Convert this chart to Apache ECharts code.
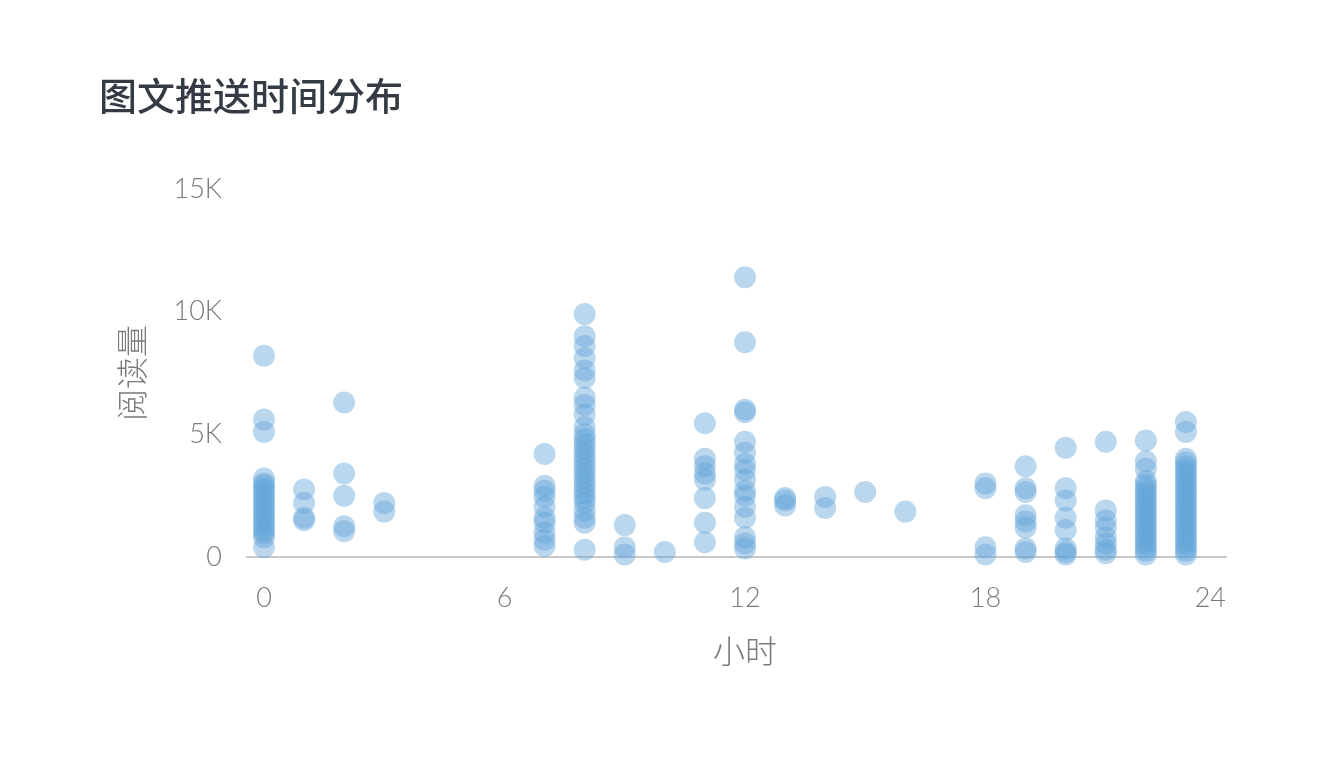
<!DOCTYPE html>
<html>
<head>
<meta charset="utf-8">
<script src="https://cdn.jsdelivr.net/npm/echarts@6/dist/echarts.min.js"></script>
<style>
html,body{margin:0;padding:0;background:#fff;}
#chart{width:1320px;height:760px;}
</style>
</head>
<body>
<div id="chart"></div>
<script>
const title = '图文推送时间分布';
const xName = '小时';
const yName = '阅读量';
const xTicks = [0, 6, 12, 18, 24];
const yTicks = [0, 5000, 10000, 15000];

const hours = [0, 1, 2, 3, 7, 8, 9, 10, 11, 12, 13, 14, 15, 16, 18, 19, 20, 21, 22, 23];
const readsByHour = [
  [8200, 5600, 5100, 3200, 3000, 2900, 2750, 2600, 2450, 2300, 2150, 2000, 1850, 1700, 1550, 1400, 1250, 1100, 950, 800, 400],
  [2750, 2200, 1600, 1500],
  [6300, 3400, 2500, 1250, 1050],
  [2200, 1850],
  [4200, 2900, 2700, 2450, 2050, 1600, 1400, 1000, 700, 450],
  [9900, 9000, 8600, 8100, 7600, 7300, 6500, 6200, 5800, 5300, 5000, 4800, 4600, 4400, 4200, 4000, 3800, 3600, 3400, 3200, 3000, 2800, 2600, 2400, 2200, 1900, 1600, 1400, 300],
  [1300, 400, 100],
  [200],
  [5450, 4000, 3700, 3400, 3150, 2400, 1400, 600],
  [11400, 8750, 6000, 5900, 4700, 4250, 3800, 3550, 3150, 2700, 2500, 2050, 1600, 800, 550, 350],
  [2400, 2300, 2100],
  [2450, 2000],
  [2650],
  [1850],
  [3000, 2800, 400, 100],
  [3700, 2800, 2650, 1700, 1450, 1200, 350, 200],
  [4450, 2800, 2300, 1600, 1100, 350, 200, 100],
  [4700, 1900, 1500, 1200, 800, 550, 300, 150],
  [4750, 3900, 3600, 3100, 2950, 2800, 2650, 2500, 2350, 2200, 2050, 1900, 1750, 1600, 1450, 1300, 1150, 1000, 850, 700, 550, 400, 250, 100],
  [5500, 5100, 4000, 3850, 3700, 3550, 3400, 3250, 3100, 2950, 2800, 2650, 2500, 2350, 2200, 2050, 1900, 1750, 1600, 1450, 1300, 1150, 1000, 850, 700, 550, 400, 250, 100]
];

const points = [];
hours.forEach(function (h, i) {
  readsByHour[i].forEach(function (v) { points.push([h, v]); });
});

const greyText = '#7a7a7a';
const labelFont = 'Lato, "Noto Sans CJK SC", sans-serif';

const chart = echarts.init(document.getElementById('chart'), null, {renderer: 'canvas'});
chart.setOption({
  backgroundColor: '#ffffff',
  animation: false,
  title: {
    text: title,
    left: 94,
    top: 72,
    textStyle: {
      fontFamily: '"Noto Sans CJK SC", sans-serif',
      fontSize: 38,
      fontWeight: 500,
      color: '#353b45'
    }
  },
  grid: [
    {left: 264, right: 94, top: 189, bottom: 203, containLabel: false},
    {left: 247, right: 94, top: 189, bottom: 203, containLabel: false}
  ],
  xAxis: [
    {
      type: 'value',
      gridIndex: 0,
      min: 0,
      max: 24,
      interval: 6,
      name: xName,
      nameLocation: 'middle',
      nameGap: 78,
      nameTextStyle: {fontFamily: '"Noto Sans CJK SC", sans-serif', fontSize: 32, fontWeight: 300, color: greyText},
      axisLine: {show: false},
      axisTick: {show: false},
      splitLine: {show: false},
      axisLabel: {
        margin: 28,
        fontFamily: labelFont,
        fontSize: 27,
        fontWeight: 300,
        color: greyText,
        alignMaxLabel: 'right',
        customValues: xTicks
      }
    },
    {
      type: 'value',
      gridIndex: 1,
      min: 0,
      max: 1,
      axisLine: {show: true, lineStyle: {color: '#c8c8c8', width: 2}},
      axisTick: {show: false},
      axisLabel: {show: false},
      splitLine: {show: false}
    }
  ],
  yAxis: [
    {
      type: 'value',
      gridIndex: 0,
      min: 0,
      max: 15000,
      interval: 5000,
      name: yName,
      nameLocation: 'middle',
      nameGap: 116,
      nameTextStyle: {fontFamily: '"Noto Sans CJK SC", sans-serif', fontSize: 32, fontWeight: 300, color: greyText},
      axisLine: {show: false},
      axisTick: {show: false},
      splitLine: {show: false},
      axisLabel: {
        margin: 42,
        fontFamily: labelFont,
        fontSize: 27,
        fontWeight: 300,
        color: greyText,
        formatter: function (v) { return v === 0 ? '0' : (v / 1000) + 'K'; }
      }
    },
    {
      type: 'value',
      gridIndex: 1,
      show: false,
      min: 0,
      max: 1
    }
  ],
  series: [
    {
      type: 'scatter',
      xAxisIndex: 0,
      yAxisIndex: 0,
      symbol: 'circle',
      symbolSize: 22,
      z: 5,
      itemStyle: {color: 'rgba(98,164,216,0.55)'},
      data: points
    }
  ]
});
</script>
</body>
</html>
